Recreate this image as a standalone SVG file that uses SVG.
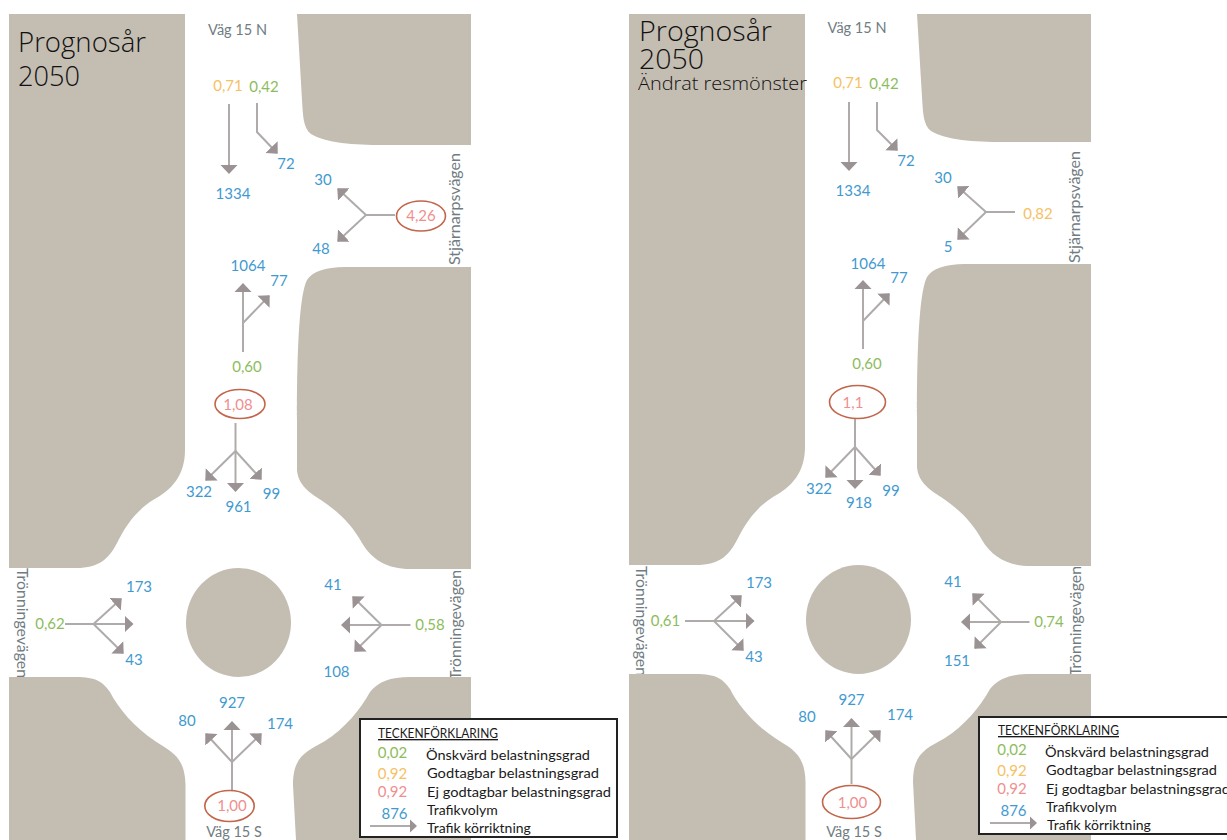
<svg xmlns="http://www.w3.org/2000/svg" width="1227" height="840" viewBox="0 0 1227 840">
<style>
text{font-family:Lato,"Liberation Sans",sans-serif;font-size:15px;text-anchor:middle}
.block{fill:#c4bdb2}
.b{fill:#3f9ad0}.g{fill:#8dbc5c}.y{fill:#f6c163}.r{fill:#ef8f8f}
.road{fill:#707c82;font-size:14.5px}
.title{font-family:"Open Sans",sans-serif;font-weight:300;fill:#111;text-anchor:start;font-size:28px}
.sub{font-size:19px}
.leg{fill:#1a1a1a;text-anchor:start;font-size:14px}
.lhead{fill:#1a1a1a;text-anchor:start;font-size:13.5px;text-decoration:underline}
.a{fill:none;stroke:#b0abab;stroke-width:2;marker-end:url(#ah)}
.t{fill:none;stroke:#b0abab;stroke-width:2}
.la{fill:none;stroke:#b0abab;stroke-width:2;marker-end:url(#ahs)}
.oval{fill:#fff;stroke:#c2654a;stroke-width:1.6}
.box{fill:#fff;stroke:#222;stroke-width:2}
</style>
<defs>
<marker id="ah" markerUnits="userSpaceOnUse" markerWidth="12" markerHeight="20" refX="8" refY="9" orient="auto" viewBox="0 0 12 20"><path d="M0,0.5 L9,9 L0,17.500Z" fill="#9a9293"/></marker>
<marker id="ahs" markerUnits="userSpaceOnUse" markerWidth="10" markerHeight="16" refX="6" refY="7" orient="auto" viewBox="0 0 10 16"><path d="M0,0.5 L7,7 L0,13.500Z" fill="#9a9293"/></marker>
</defs>
<rect width="1227" height="840" fill="#fff"/>

<g id="panel-left">
<g id="road-names-left">
<text class="road" x="237.500" y="35">Väg 15 N</text>
<text class="road" x="234" y="837">Väg 15 S</text>
<text class="road" transform="translate(460,209) rotate(-90)" textLength="112" lengthAdjust="spacingAndGlyphs">Stjärnarpsvägen</text>
<text class="road" transform="translate(17,623) rotate(90)" textLength="110" lengthAdjust="spacingAndGlyphs">Trönningevägen</text>
<text class="road" transform="translate(461,625) rotate(-90)" textLength="110" lengthAdjust="spacingAndGlyphs">Trönningevägen</text>
</g>
<g id="blocks-left">
<path class="block" d="M9,14H185V450C185,475 172,490 153,500C136,511 126,525 117,543C109,558 100,568 76,568H9Z"/>
<path class="block" d="M297,14H471V145H383C355,145 325,143 311,134C303,128 303,115 302,100Z"/>
<path class="block" d="M471,267H345C325,267 312,272 307,280C301,292 297,330 297,420V470C298,485 310,493 321,500C340,513 352,525 362,543C372,560 388,569 410,569H471Z"/>
<path class="block" d="M9,677H76C96,677 103,682 110,692C118,708 135,728 155,741C172,752 185,757 185.500,785V840H9Z"/>
<path class="block" d="M471,677H410C390,677 378,682 370,692C360,710 345,728 325,741C305,752 293,757 293,785L296,840H471Z"/>
<ellipse class="block" cx="238.500" cy="622.500" rx="52.500" ry="54.500"/>
</g>
<g id="title-left">
<text class="title" x="18" y="52" textLength="128" lengthAdjust="spacingAndGlyphs">Prognosår</text>
<text class="title" x="18" y="86" textLength="62" lengthAdjust="spacingAndGlyphs">2050</text>
</g>
<g id="connectors-left">
<path class="a" d="M229,104V173"/>
<path class="a" d="M257,103V132L277,153"/>
<path class="t" d="M395,215H366"/><path class="a" d="M366,215L338,189"/><path class="a" d="M366,215L338,241"/>
<path class="a" d="M243,352V284"/><path class="a" d="M243,323L269,296"/>
<path class="a" d="M235.500,423V491"/><path class="a" d="M235.500,451L206,480"/><path class="a" d="M235.500,451L261,479"/>
<path class="t" d="M65,624H93.500"/><path class="a" d="M93.500,624L132.500,624"/><path class="a" d="M93.500,624L121,599"/><path class="a" d="M93.500,624L123,653"/>
<path class="t" d="M410.500,625H381.500"/><path class="a" d="M381.500,625H342"/><path class="a" d="M381.500,625L353,597"/><path class="a" d="M381.500,625L355,651"/>
<path class="a" d="M232,790V722"/><path class="a" d="M232,762L206,734"/><path class="a" d="M232,762L261,734"/>
</g>
<g id="labels-left">
<text class="y" x="228" y="91">0,71</text><text class="g" x="264" y="92">0,42</text>
<text class="b" x="286" y="169">72</text><text class="b" x="233" y="199">1334</text>
<text class="b" x="323" y="185">30</text><text class="b" x="321" y="254">48</text>
<text class="b" x="248" y="271">1064</text><text class="b" x="279" y="286">77</text>
<text class="g" x="247" y="372">0,60</text>
<text class="b" x="199" y="497">322</text><text class="b" x="238.500" y="512">961</text><text class="b" x="271.500" y="499">99</text>
<text class="g" x="50" y="629">0,62</text><text class="b" x="139" y="592">173</text><text class="b" x="134" y="665">43</text>
<text class="g" x="430" y="630">0,58</text><text class="b" x="333" y="590">41</text><text class="b" x="336.500" y="677">108</text>
<text class="b" x="232" y="708">927</text><text class="b" x="187" y="726">80</text><text class="b" x="280" y="729">174</text>
</g>
<g id="oval-e-left"><ellipse class="oval" cx="421" cy="216" rx="24.500" ry="15"/><text class="r" x="421" y="221">4,26</text></g>
<g id="oval-n-left"><ellipse class="oval" cx="240" cy="404" rx="25" ry="14.500"/><text class="r" x="238" y="410">1,08</text></g>
<g id="oval-s-left"><ellipse class="oval" cx="229.500" cy="806" rx="24.700" ry="15.500"/><text class="r" x="232" y="811">1,00</text></g>
<g id="legend-left">
<rect class="box" x="360" y="719" width="257" height="118"/>
<text class="lhead" x="378" y="738" textLength="120" lengthAdjust="spacingAndGlyphs">TECKENFÖRKLARING</text>
<text class="g" x="392.500" y="758">0,02</text><text class="leg" x="426" y="760" textLength="164" lengthAdjust="spacingAndGlyphs">Önskvärd belastningsgrad</text>
<text class="y" x="392.500" y="779">0,92</text><text class="leg" x="427" y="778" textLength="172" lengthAdjust="spacingAndGlyphs">Godtagbar belastningsgrad</text>
<text class="r" x="392.500" y="797">0,92</text><text class="leg" x="427" y="797" textLength="184" lengthAdjust="spacingAndGlyphs">Ej godtagbar belastningsgrad</text>
<text class="b" x="394.500" y="819">876</text><text class="leg" x="427" y="815">Trafikvolym</text>
<path class="la" d="M370,826H416"/><text class="leg" x="427" y="833">Trafik körriktning</text>
</g>
</g>

<g id="panel-right">
<g id="road-names-right">
<text class="road" x="857" y="33">Väg 15 N</text>
<text class="road" x="854" y="836.500">Väg 15 S</text>
<text class="road" transform="translate(1080,207) rotate(-90)" textLength="112" lengthAdjust="spacingAndGlyphs">Stjärnarpsvägen</text>
<text class="road" transform="translate(636,621) rotate(90)" textLength="110" lengthAdjust="spacingAndGlyphs">Trönningevägen</text>
<text class="road" transform="translate(1081,621) rotate(-90)" textLength="110" lengthAdjust="spacingAndGlyphs">Trönningevägen</text>
</g>
<g id="blocks-right">
<path class="block" d="M629,14H805V447C805,472 792,487 773,497C756,508 746,522 737,540C729,555 720,565 696,565H629Z"/>
<path class="block" d="M917,14H1091V142H1003C975,142 945,140 931,131C923,125 923,112 922,97Z"/>
<path class="block" d="M1091,264H965C945,264 932,269 927,277C921,289 917,327 917,417V467C918,482 930,490 941,497C960,510 972,522 982,540C992,557 1008,566 1030,566H1091Z"/>
<path class="block" d="M629,674H696C716,674 723,679 730,689C738,705 755,725 775,738C792,749 805,754 805.500,782V840H629Z"/>
<path class="block" d="M1091,674H1030C1010,674 998,679 990,689C980,707 965,725 945,738C925,749 913,754 913,782L916,840H1091Z"/>
<ellipse class="block" cx="858.500" cy="619.500" rx="52.500" ry="54.500"/>
</g>
<g id="title-right">
<text class="title" x="639" y="41" textLength="133" lengthAdjust="spacingAndGlyphs">Prognosår</text>
<text class="title" x="639" y="69" textLength="65" lengthAdjust="spacingAndGlyphs">2050</text>
<text class="title sub" x="638" y="90" textLength="169" lengthAdjust="spacingAndGlyphs">Ändrat resmönster</text>
</g>
<g id="connectors-right">
<path class="a" d="M849,102V170"/>
<path class="a" d="M877,102V130L897,150"/>
<path class="t" d="M1015,212H986"/><path class="a" d="M986,212L958,187"/><path class="a" d="M986,212L958,239"/>
<path class="a" d="M863,349V281"/><path class="a" d="M863,321L889,294"/>
<path class="a" d="M855,418V488"/><path class="a" d="M855,447L826,477"/><path class="a" d="M855,447L880,475"/>
<path class="t" d="M685,621H714"/><path class="a" d="M714,621L753.500,621"/><path class="a" d="M714,621L741,596"/><path class="a" d="M714,621L743,650"/>
<path class="t" d="M1029.500,622H1001"/><path class="a" d="M1001,622H962"/><path class="a" d="M1001,622L973,594"/><path class="a" d="M1001,622L975,648"/>
<path class="a" d="M851.500,784V719"/><path class="a" d="M851.500,759L826,731"/><path class="a" d="M851.500,759L880,731"/>
</g>
<g id="labels-right">
<text class="y" x="848" y="88">0,71</text><text class="g" x="884" y="89">0,42</text>
<text class="b" x="906" y="166">72</text><text class="b" x="853" y="196">1334</text>
<text class="b" x="943" y="183">30</text><text class="b" x="948" y="252">5</text>
<text class="y" x="1038" y="219">0,82</text>
<text class="b" x="868" y="269">1064</text><text class="b" x="899" y="283">77</text>
<text class="g" x="867" y="369">0,60</text>
<text class="b" x="819" y="494">322</text><text class="b" x="859" y="508">918</text><text class="b" x="891" y="496">99</text>
<text class="g" x="665.500" y="626">0,61</text><text class="b" x="759" y="588">173</text><text class="b" x="754" y="662">43</text>
<text class="g" x="1049" y="627">0,74</text><text class="b" x="953" y="587">41</text><text class="b" x="957" y="666">151</text>
<text class="b" x="851.500" y="705">927</text><text class="b" x="807" y="722">80</text><text class="b" x="900" y="720">174</text>
</g>
<g id="oval-n-right"><ellipse class="oval" cx="857.500" cy="402" rx="28" ry="16.500"/><text class="r" x="853" y="408">1,1</text></g>
<g id="oval-s-right"><ellipse class="oval" cx="851.500" cy="802" rx="29" ry="16.500"/><text class="r" x="852.500" y="808">1,00</text></g>
<g id="legend-right">
<rect class="box" x="979" y="717" width="256" height="117"/>
<text class="lhead" x="998" y="735" textLength="121" lengthAdjust="spacingAndGlyphs">TECKENFÖRKLARING</text>
<text class="g" x="1012" y="755">0,02</text><text class="leg" x="1045" y="757" textLength="164" lengthAdjust="spacingAndGlyphs">Önskvärd belastningsgrad</text>
<text class="y" x="1012" y="776">0,92</text><text class="leg" x="1046" y="775" textLength="171" lengthAdjust="spacingAndGlyphs">Godtagbar belastningsgrad</text>
<text class="r" x="1012" y="794">0,92</text><text class="leg" x="1046" y="794" textLength="184" lengthAdjust="spacingAndGlyphs">Ej godtagbar belastningsgrad</text>
<text class="b" x="1013.500" y="816">876</text><text class="leg" x="1046" y="812">Trafikvolym</text>
<path class="la" d="M990,823H1036"/><text class="leg" x="1047" y="830">Trafik körriktning</text>
</g>
</g>
</svg>
